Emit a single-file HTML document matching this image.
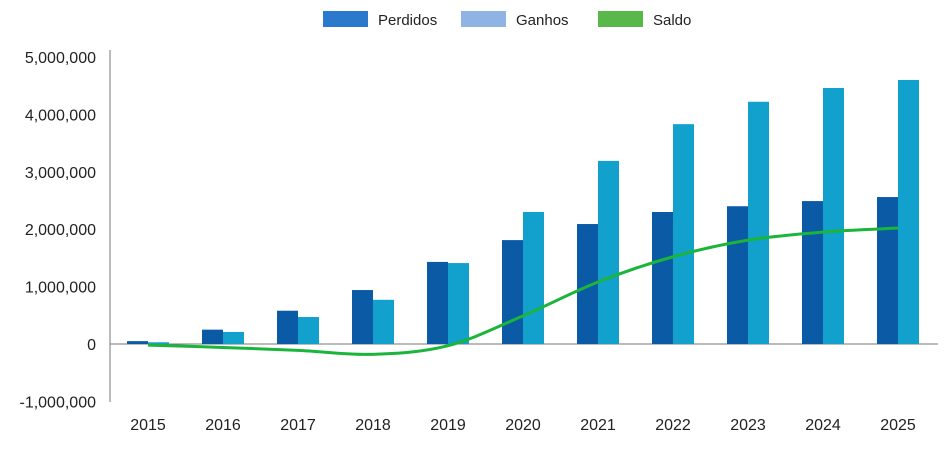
<!DOCTYPE html>
<html><head><meta charset="utf-8"><style>
body{margin:0;background:#fff;font-family:"Liberation Sans",Arial,sans-serif}
svg text{font-family:"Liberation Sans",Arial,sans-serif}
</style></head><body>
<svg id="c" width="945" height="448"></svg>
<script>
const categories=["2015","2016","2017","2018","2019","2020","2021","2022","2023","2024","2025"];
const perdidos=[50000,250000,580000,940000,1430000,1810000,2090000,2300000,2400000,2490000,2560000];
const ganhos=[30000,210000,470000,770000,1410000,2300000,3190000,3830000,4220000,4460000,4600000];
const saldo=[-20000,-60000,-110000,-180000,-30000,490000,1080000,1520000,1810000,1950000,2020000];
const yTicks=[5000000,4000000,3000000,2000000,1000000,0,-1000000];
const yTickLabels=["5,000,000","4,000,000","3,000,000","2,000,000","1,000,000","0","-1,000,000"];
const NS="http://www.w3.org/2000/svg",svg=document.getElementById('c');
function y(v){return 344-v*57.4/1e6;}
function x(i){return 148+i*75;}
function mk(t,a,p){const e=document.createElementNS(NS,t);for(const k in a)e.setAttribute(k,a[k]);(p||svg).appendChild(e);return e;}
// axes
let ax=mk('line',{x1:110,y1:50,x2:110,y2:402,stroke:'#777','stroke-width':1});


let zl=mk('line',{x1:110,y1:344,x2:938,y2:344,stroke:'#777','stroke-width':1});


yTicks.forEach((v,i)=>{const t=mk('text',{x:96,y:y(v)+6,'text-anchor':'end','font-size':16,fill:'#222'});t.textContent=yTickLabels[i];

});
categories.forEach((c,i)=>{const t=mk('text',{x:x(i),y:430,'text-anchor':'middle','font-size':16,fill:'#222'});t.textContent=c;


const b1=mk('rect',{x:x(i)-21,y:Math.min(y(perdidos[i]),344),width:21,height:Math.abs(y(perdidos[i])-344),fill:'#0a5aa6'});


const b2=mk('rect',{x:x(i),y:Math.min(y(ganhos[i]),344),width:21,height:Math.abs(y(ganhos[i])-344),fill:'#12a0cc'});

});
// saldo smooth line
const pts=saldo.map((v,i)=>[x(i),y(v)]);
let d='M'+pts[0][0]+','+pts[0][1];
for(let i=0;i<pts.length-1;i++){const p0=pts[Math.max(0,i-1)],p1=pts[i],p2=pts[i+1],p3=pts[Math.min(pts.length-1,i+2)];
d+=' C'+(p1[0]+(p2[0]-p0[0])/6)+','+(p1[1]+(p2[1]-p0[1])/6)+' '+(p2[0]-(p3[0]-p1[0])/6)+','+(p2[1]-(p3[1]-p1[1])/6)+' '+p2[0]+','+p2[1];}
const ln=mk('path',{d:d,fill:'none',stroke:'#1ab53a','stroke-width':3});


// legend
const leg=[["Perdidos","#2a79cc",323],["Ganhos","#8fb4e4",461],["Saldo","#58b84a",598]];
leg.forEach(l=>{const g=mk('g',{});


mk('rect',{x:l[2],y:11,width:45,height:16,fill:l[1]},g);
const t=mk('text',{x:l[2]+55,y:25,'font-size':15,fill:'#222'},g);t.textContent=l[0];});
</script>
</body></html>
